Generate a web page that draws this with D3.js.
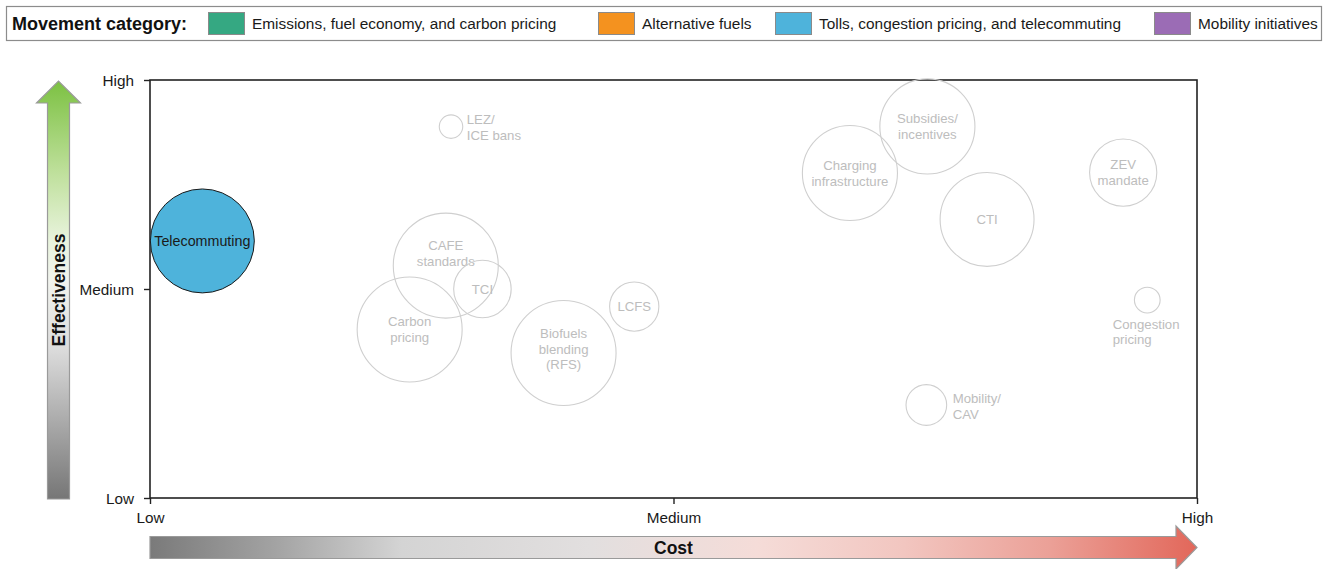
<!DOCTYPE html>
<html>
<head>
<meta charset="utf-8">
<script src="https://cdn.jsdelivr.net/npm/d3@7"></script>
<style>
  html, body { margin: 0; padding: 0; background: #fff; }
  svg { display: block; font-family: "Liberation Sans", Arial, Helvetica, sans-serif; }
</style>
</head>
<body>
<svg id="chart" width="1328" height="569"></svg>
<script>
// ---- Data ----------------------------------------------------------
const legendCategories = [
  "Emissions, fuel economy, and carbon pricing",
  "Alternative fuels",
  "Tolls, congestion pricing, and telecommuting",
  "Mobility initiatives"
];
const categoryColors = ["#35a882", "#f4921f", "#4eb3db", "#9b6cb5"];

const levelLabels = ["Low", "Medium", "High"];   // tick labels for both axes

// Measures: cost (0 = Low, 1 = Medium, 2 = High), effectiveness (same scale), size
const measureNames = [
  "Telecommuting", "LEZ/\nICE bans", "CAFE\nstandards", "TCI", "Carbon\npricing",
  "Biofuels\nblending\n(RFS)", "LCFS", "Charging\ninfrastructure", "Subsidies/\nincentives",
  "CTI", "ZEV\nmandate", "Congestion\npricing", "Mobility/\nCAV"
];
const measureCost = [0.10, 0.575, 0.565, 0.635, 0.496, 0.79, 0.925, 1.337, 1.485, 1.599, 1.859, 1.905, 1.483];
const measureEffect = [1.23, 1.777, 1.112, 1.0, 0.806, 0.694, 0.916, 1.555, 1.778, 1.333, 1.557, 0.947, 0.445];
const measureSize = [98, 5, 100, 30, 100, 100, 22, 82, 82, 80, 41, 6, 15];
const measureCategory = [2, 0, 0, 0, 0, 1, 1, 1, 1, 0, 0, 2, 3];
const highlightedCategory = 2;
const highlightedMeasures = ["Telecommuting"];

// ---- Layout --------------------------------------------------------
const svg = d3.select("#chart");
const plot = { left: 150, right: 1197, top: 80, bottom: 498 };
const FONT = '"Liberation Sans", Arial, Helvetica, sans-serif';

const x = d3.scaleLinear().domain([0, 2]).range([plot.left, plot.right]);
const y = d3.scaleLinear().domain([0, 2]).range([plot.bottom, plot.top]);
const r = d3.scaleSqrt().domain([0, 100]).range([0, 52.5]);

const defs = svg.append("defs");

// ---- Legend --------------------------------------------------------
const legend = svg.append("g");
legend.append("rect")
  .attr("x", 6.5).attr("y", 6.5).attr("width", 1315).attr("height", 34)
  .attr("fill", "#fff").attr("stroke", "#8c8c8c").attr("stroke-width", 1.2);
legend.append("text")
  .attr("x", 12).attr("y", 30)
  .attr("font-size", 18).attr("font-weight", "bold").attr("fill", "#111")
  .text("Movement category:");
const swatchX = [208, 598, 775, 1154];
legendCategories.forEach((c, i) => {
  legend.append("rect")
    .attr("x", swatchX[i] + 0.5).attr("y", 12.5).attr("width", 36).attr("height", 22)
    .attr("fill", categoryColors[i]).attr("stroke", "#8a8a8a").attr("stroke-width", 1);
  legend.append("text")
    .attr("x", swatchX[i] + 44).attr("y", 29)
    .attr("font-size", 15.4).attr("fill", "#1a1a1a")
    .text(c);
});

// ---- Axis arrows ---------------------------------------------------
const gv = defs.append("linearGradient").attr("id", "effGrad")
  .attr("x1", 0).attr("y1", 1).attr("x2", 0).attr("y2", 0);
[[0, "#767676"], [0.18, "#a9a9a9"], [0.36, "#dcdcdc"], [0.52, "#f1f3ee"],
 [0.62, "#e8f3dc"], [0.78, "#bfe09c"], [1, "#7cc142"]]
  .forEach(([o, c]) => gv.append("stop").attr("offset", o).attr("stop-color", c));

const gh = defs.append("linearGradient").attr("id", "costGrad")
  .attr("x1", 0).attr("y1", 0).attr("x2", 1).attr("y2", 0);
[[0, "#7a7a7a"], [0.12, "#a3a3a3"], [0.24, "#d4d4d4"], [0.42, "#e2dfdf"],
 [0.58, "#f5dcd8"], [0.72, "#f2c6c0"], [0.86, "#eba097"], [1, "#e2675a"]]
  .forEach(([o, c]) => gh.append("stop").attr("offset", o).attr("stop-color", c));

// vertical arrow (Effectiveness)
const va = { cx: 58.5, half: 11, headHalf: 22, tip: 81, headBase: 103, bottom: 499 };
svg.append("path")
  .attr("d", `M${va.cx - va.half},${va.bottom} L${va.cx - va.half},${va.headBase} L${va.cx - va.headHalf},${va.headBase}
              L${va.cx},${va.tip} L${va.cx + va.headHalf},${va.headBase} L${va.cx + va.half},${va.headBase}
              L${va.cx + va.half},${va.bottom} Z`)
  .attr("fill", "url(#effGrad)").attr("stroke", "#9a9a9a").attr("stroke-width", 1.2);
svg.append("text")
  .attr("transform", `translate(${va.cx + 6.5},${290}) rotate(-90)`)
  .attr("text-anchor", "middle")
  .attr("font-size", 17.5).attr("font-weight", "bold").attr("fill", "#111")
  .text("Effectiveness");

// horizontal arrow (Cost)
const ha = { cy: 547.5, half: 11, headHalf: 21.5, left: 150, headBase: 1176, tip: 1197 };
svg.append("path")
  .attr("d", `M${ha.left},${ha.cy - ha.half} L${ha.headBase},${ha.cy - ha.half} L${ha.headBase},${ha.cy - ha.headHalf}
              L${ha.tip},${ha.cy} L${ha.headBase},${ha.cy + ha.headHalf} L${ha.headBase},${ha.cy + ha.half}
              L${ha.left},${ha.cy + ha.half} Z`)
  .attr("fill", "url(#costGrad)").attr("stroke", "#9a9a9a").attr("stroke-width", 1.2);
svg.append("text")
  .attr("x", x(1)).attr("y", ha.cy + 6.5)
  .attr("text-anchor", "middle")
  .attr("font-size", 17.5).attr("font-weight", "bold").attr("fill", "#111")
  .text("Cost");

// ---- Axes and frame -------------------------------------------------
const fmt = d => levelLabels[d];
const yAxis = svg.append("g")
  .attr("transform", `translate(${plot.left},0)`)
  .call(d3.axisLeft(y).tickValues([0, 1, 2]).tickFormat(fmt).tickSize(6).tickPadding(10));
const xAxis = svg.append("g")
  .attr("transform", `translate(0,${plot.bottom})`)
  .call(d3.axisBottom(x).tickValues([0, 1, 2]).tickFormat(fmt).tickSize(6).tickPadding(8));
[yAxis, xAxis].forEach(a => {
  a.select(".domain").remove();
  a.selectAll("line").attr("stroke", "#222").attr("stroke-width", 1.4);
  a.selectAll("text").attr("font-size", 15.3).attr("fill", "#1a1a1a").attr("font-family", FONT);
});
yAxis.selectAll("text").attr("dy", "0.36em");

svg.append("rect")
  .attr("x", plot.left).attr("y", plot.top)
  .attr("width", plot.right - plot.left).attr("height", plot.bottom - plot.top)
  .attr("fill", "none").attr("stroke", "#222").attr("stroke-width", 1.6);

// ---- Bubbles -------------------------------------------------------
const measures = measureNames.map((n, i) => ({
  name: n, cost: measureCost[i], effect: measureEffect[i],
  size: measureSize[i], cat: measureCategory[i]
}));

// where each label sits relative to its bubble
const labelPlacement = {
  "LEZ/\nICE bans": { mode: "right", gap: 4, dy: 1 },
  "Mobility/\nCAV": { mode: "right", gap: 6, dy: 1 },
  "Congestion\npricing": { mode: "below", gap: 5, dx: -34.5 },
  "CAFE\nstandards": { mode: "center", dy: -12 },
  "Biofuels\nblending\n(RFS)": { mode: "center", dy: -4 }
};

const isActive = d => d.cat === highlightedCategory && highlightedMeasures.includes(d.name);
const bubbles = svg.append("g");
const LH = 15.8;

measures.forEach(d => {
  const cx = x(d.cost), cy = y(d.effect), rad = r(d.size);
  const active = isActive(d);
  bubbles.append("circle")
    .attr("cx", cx).attr("cy", cy).attr("r", rad)
    .attr("fill", active ? categoryColors[d.cat] : "none")
    .attr("stroke", active ? "#1a1a1a" : "#cfcfcf")
    .attr("stroke-width", active ? 1 : 1.1);

  const lines = d.name.split("\n");
  const p = labelPlacement[d.name] || { mode: "center", dy: 0 };
  let tx = cx, anchor = "middle", firstY;
  if (p.mode === "right") {
    tx = cx + rad + p.gap; anchor = "start";
    firstY = cy - (lines.length - 1) * LH / 2 + (p.dy || 0);
  } else if (p.mode === "below") {
    tx = cx + p.dx; anchor = "start";
    firstY = cy + rad + p.gap + 6;
  } else {
    firstY = cy - (lines.length - 1) * LH / 2 + (p.dy || 0);
  }
  const t = bubbles.append("text")
    .attr("text-anchor", anchor)
    .attr("font-size", active ? 14.3 : 13.2)
    .attr("fill", active ? "#1a1a1a" : "#bdbdbd");
  lines.forEach((ln, k) => {
    t.append("tspan").attr("x", tx).attr("y", firstY + k * LH).attr("dy", "0.35em").text(ln);
  });
});
</script>
</body>
</html>
